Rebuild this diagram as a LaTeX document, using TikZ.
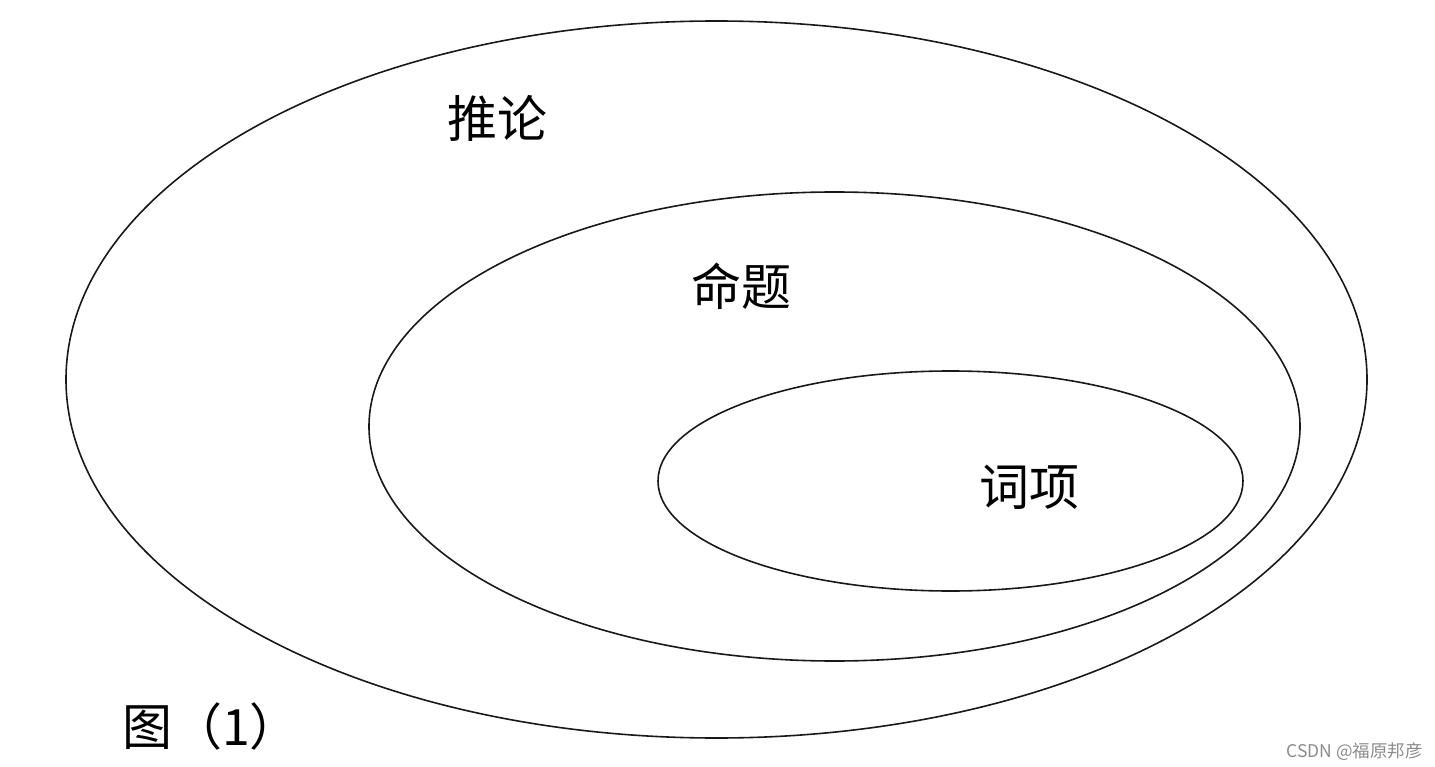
\documentclass[tikz,border=0pt]{standalone}
\usepackage{fontspec}
\newfontfamily\cjk{Noto Sans CJK SC}
\begin{document}
\begin{tikzpicture}[x=1pt,y=-1pt,
  ring/.style={draw=black!90,line width=1.6pt},
  lbl/.style={font=\cjk\fontsize{50}{50}\selectfont,inner sep=0pt},
  wmark/.style={font=\cjk\fontsize{17.5}{17.5}\selectfont,text=black!45,inner sep=0pt}]
\useasboundingbox[fill=white] (0,0) rectangle (1435,767);
\draw[ring] (716.5,379.5) ellipse [x radius=650.5, y radius=358.5];
\draw[ring] (834.5,426.5) ellipse [x radius=465.5, y radius=234.5];
\draw[ring] (950.5,481) ellipse [x radius=292.5, y radius=110];
\node[lbl] (tuilun) at (497,118) {推论};
\node[lbl] (mingti) at (741,286) {命题};
\node[lbl] (cixiang) at (1029,487) {词项};
\node[lbl,anchor=west] (tu) at (122,726) {图（1）};
\node[wmark,anchor=east] (wm) at (1423,752) {CSDN @福原邦彦};
\end{tikzpicture}
\end{document}
